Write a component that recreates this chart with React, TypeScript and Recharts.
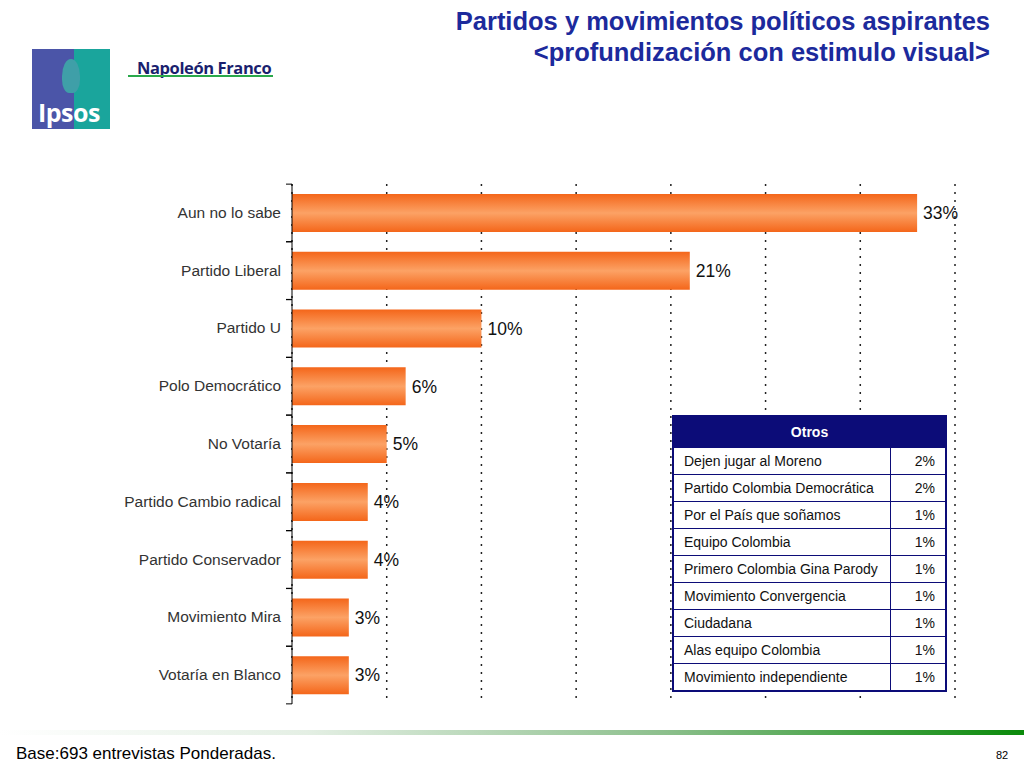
import { Bar, BarChart, CartesianGrid, LabelList, XAxis, YAxis } from 'recharts';

const categories = [
    'Aun no lo sabe',
    'Partido Liberal',
    'Partido U',
    'Polo Democrático',
    'No Votaría',
    'Partido Cambio radical',
    'Partido Conservador',
    'Movimiento Mira',
    'Votaría en Blanco'
];
const values = [33, 21, 10, 6, 5, 4, 4, 3, 3];
const xTicks = [0, 5, 10, 15, 20, 25, 30, 35];

const otrosNames = [
    'Dejen jugar al Moreno',
    'Partido Colombia Democrática',
    'Por el País que soñamos',
    'Equipo Colombia',
    'Primero Colombia Gina Parody',
    'Movimiento Convergencia',
    'Ciudadana',
    'Alas equipo Colombia',
    'Movimiento independiente'
];
const otrosValues = [2, 2, 1, 1, 1, 1, 1, 1, 1];

const data = categories.map((name, i) => ({ name, value: values[i] }));

const FONT = '"Liberation Sans", Arial, sans-serif';
const NAVY = '#0c0c78';
const BAND = 57.5;

// category label at band centre, small tick marks at the band edges
function CategoryTick({ x, y, payload }: any) {
    return (
        <g>
            <line x1={x + 2} x2={x + 8} y1={y - BAND / 2} y2={y - BAND / 2} stroke="#000" />
            <line x1={x + 2} x2={x + 8} y1={y + BAND / 2} y2={y + BAND / 2} stroke="#000" />
            <text x={x - 3} y={y} dy={5} textAnchor="end" fontSize={15.5} fill="#333" fontFamily={FONT}>
                {payload.value}
            </text>
        </g>
    );
}

function Logo() {
    return (
        <div style={{ position: 'absolute', left: 32, top: 49 }}>
            <div style={{ width: 78, height: 80, display: 'flex', position: 'relative' }}>
                <div style={{ width: 42, height: 80, background: '#4b55a8' }} />
                <div style={{ width: 36, height: 80, background: '#1aa59c' }} />
                <div
                    style={{
                        position: 'absolute',
                        left: 30,
                        top: 10,
                        width: 18,
                        height: 34,
                        borderRadius: '50% 50% 40% 40%',
                        background: '#3f9fa8'
                    }}
                />
                <div
                    style={{
                        position: 'absolute',
                        left: 6,
                        top: 46,
                        color: '#fff',
                        fontFamily: '"Open Sans", sans-serif',
                        fontWeight: 700,
                        fontSize: 25,
                        letterSpacing: -0.5
                    }}
                >
                    Ipsos
                </div>
            </div>
            <div
                style={{
                    position: 'absolute',
                    left: 105,
                    top: 7,
                    fontFamily: '"Open Sans", sans-serif',
                    fontWeight: 700,
                    fontSize: 16.5,
                    letterSpacing: -0.4,
                    color: '#1a1f6e',
                    whiteSpace: 'nowrap'
                }}
            >
                Napoleón Franco
            </div>
            <div style={{ position: 'absolute', left: 96, top: 26, width: 145, height: 2, background: '#2aa84a' }} />
        </div>
    );
}

function OtrosTable() {
    const cell = {
        border: `1px solid ${NAVY}`,
        height: 26,
        padding: '0 10px',
        fontSize: 14,
        color: '#111',
        whiteSpace: 'nowrap' as const
    };
    return (
        <table
            style={{
                position: 'absolute',
                left: 672,
                top: 415,
                width: 275,
                borderCollapse: 'collapse',
                fontFamily: FONT,
                background: '#fff',
                border: `2px solid ${NAVY}`
            }}
        >
            <tbody>
                <tr>
                    <td
                        colSpan={2}
                        style={{
                            background: NAVY,
                            color: '#fff',
                            fontWeight: 700,
                            fontSize: 14,
                            textAlign: 'center',
                            height: 28
                        }}
                    >
                        Otros
                    </td>
                </tr>
                {otrosNames.map((n, i) => (
                    <tr key={n}>
                        <td style={{ ...cell, width: 196 }}>{n}</td>
                        <td style={{ ...cell, textAlign: 'right' }}>{otrosValues[i]}%</td>
                    </tr>
                ))}
            </tbody>
        </table>
    );
}

export default function App() {
    return (
        <div
            style={{
                position: 'absolute',
                left: 0,
                top: 0,
                width: 1024,
                height: 768,
                background: '#fff',
                fontFamily: FONT,
                overflow: 'hidden'
            }}
        >
            <div
                style={{
                    position: 'absolute',
                    right: 34,
                    top: 6,
                    textAlign: 'right',
                    color: '#1c2a9c',
                    fontWeight: 700,
                    fontSize: 25.5,
                    lineHeight: '31px',
                    fontFamily: FONT,
                    whiteSpace: 'nowrap'
                }}
            >
                Partidos y movimientos políticos aspirantes
                <br />
                &lt;profundización con estimulo visual&gt;
            </div>
            <Logo />
            <div style={{ position: 'absolute', left: 0, top: 0 }}>
                <BarChart
                    width={1024}
                    height={768}
                    data={data}
                    layout="vertical"
                    barSize={38}
                    margin={{ top: 184, right: 69, bottom: 64, left: 0 }}
                >
                    <defs>
                        <linearGradient id="barFill" x1="0" y1="0" x2="0" y2="1">
                            <stop offset="0%" stopColor="#f4661a" />
                            <stop offset="50%" stopColor="#fca265" />
                            <stop offset="100%" stopColor="#f4661a" />
                        </linearGradient>
                    </defs>
                    <CartesianGrid
                        horizontal={false}
                        vertical
                        stroke="#222"
                        strokeDasharray="2 6"
                        strokeWidth={1.5}
                    />
                    <XAxis type="number" domain={[0, 35]} ticks={xTicks} hide />
                    <YAxis
                        type="category"
                        dataKey="name"
                        width={292}
                        axisLine={{ stroke: '#000' }}
                        tickLine={false}
                        tick={<CategoryTick />}
                        interval={0}
                    />
                    <Bar dataKey="value" fill="url(#barFill)" isAnimationActive={false}>
                        <LabelList
                            dataKey="value"
                            position="right"
                            offset={6}
                            formatter={(v: any) => `${v}%`}
                            style={{ fontSize: 17.5, fill: '#111', fontFamily: FONT }}
                        />
                    </Bar>
                </BarChart>
            </div>
            <OtrosTable />
            <div
                style={{
                    position: 'absolute',
                    left: 0,
                    top: 730,
                    width: 1024,
                    height: 5,
                    background: 'linear-gradient(to right, #ffffff 0%, #e4efe4 30%, #8cbf8c 65%, #0a8a0a 100%)'
                }}
            />
            <div style={{ position: 'absolute', left: 16, top: 744, fontSize: 17, color: '#000' }}>
                Base:693 entrevistas Ponderadas.
            </div>
            <div style={{ position: 'absolute', left: 996, top: 749, fontSize: 11, color: '#000' }}>82</div>
        </div>
    );
}
